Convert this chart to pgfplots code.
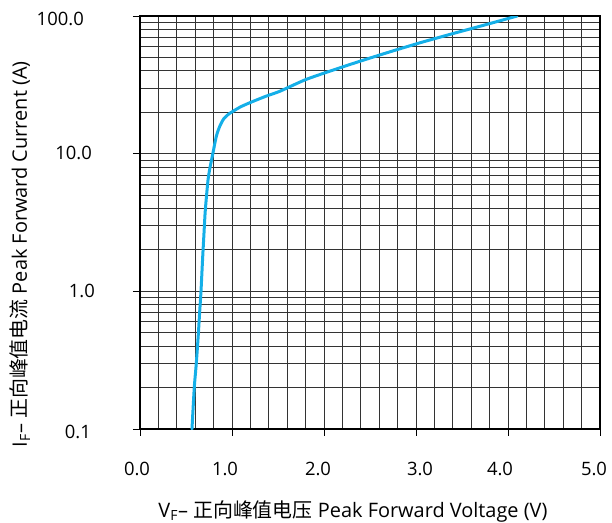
\documentclass[border=0pt]{standalone}
\usepackage{pgfplots}
\pgfplotsset{compat=1.18}
\usepackage{fontspec}
\setmainfont{Open Sans}
\newfontfamily\cjk{Noto Sans CJK SC}

\definecolor{curve}{HTML}{14AFE8}
\definecolor{gridc}{HTML}{333333}

% tick labels, each nudged a little off its tick
\newcommand\xlab[1]{\ifcase#1
  \makebox[0pt]{\hspace*{-6bp}0.0}\or
  \makebox[0pt]{\hspace*{-14bp}1.0}\or
  \makebox[0pt]{\hspace*{-12bp}2.0}\or
  \makebox[0pt]{\hspace*{8bp}3.0}\or
  \makebox[0pt]{\hspace*{-16bp}4.0}\or
  \makebox[0pt]{\hspace*{-12bp}5.0}\fi}

% forward characteristic: voltage (V), peak current (A)
\pgfplotstableread{
V      I
0.565  0.10
0.590  0.20
0.612  0.30
0.635  0.50
0.648  0.70
0.663  1.00
0.680  1.70
0.695  2.60
0.710  3.90
0.740  6.50
0.765  8.20
0.785  9.50
0.830  13.4
0.870  16.0
0.910  17.9
0.960  19.3
1.010  20.3
1.100  22.0
1.230  24.0
1.380  26.3
1.520  28.4
1.800  34.5
2.100  40.5
2.390  46.9
2.700  54.5
3.040  63.8
3.400  74.5
3.700  84.4
4.100  100
}\fwd

\begin{document}
\begin{tikzpicture}
\begin{axis}[
  scale only axis,
  width=460bp, height=413bp,
  xmin=0, xmax=5,
  ymode=log, ymin=0.1, ymax=100,
  xtick={0,1,2,3,4,5},
  xticklabel={\xlab{\ticknum}},
  minor x tick num=4,
  ytick={0.1,1,10,100},
  yticklabels={},
  grid=both,
  major grid style={line width=0.8bp, gridc},
  minor grid style={line width=0.8bp, gridc},
  tick align=outside,
  xtick pos=bottom, ytick pos=left,
  major tick length=7bp,
  minor tick length=0pt,
  tick style={line width=0.8bp, black},
  axis line style={line width=1.2bp, black},
  tick label style={font=\fontsize{18.5}{22}\selectfont},
  xticklabel style={anchor=base, yshift=-40bp},
  xlabel={V\textsubscript{F}– {\cjk 正向峰值电压} Peak Forward Voltage (V)},
  ylabel={I\textsubscript{F}– {\cjk 正向峰值电流} Peak Forward Current (A)},
  label style={font=\fontsize{20}{24}\selectfont},
  xlabel style={at={(axis description cs:0.463,0)}, anchor=base, yshift=-88bp},
  ylabel style={at={(axis description cs:-0.2457,0.423)}, anchor=base},
  clip mode=individual,
]
\addplot[curve, line width=3bp, line join=round, line cap=round, smooth, tension=0.4]
  table[x=V, y=I] {\fwd};
\coordinate (sw) at (rel axis cs:0,0);
\coordinate (ne) at (rel axis cs:1,1);
% current scale values, right-aligned left of the axis
\begin{scope}[every node/.style={font=\fontsize{18.5}{22}\selectfont, anchor=east, inner sep=0pt}]
  \node at ([xshift=-49bp,yshift=-3bp]axis cs:0,0.1) {0.1};
  \node at ([xshift=-45bp,yshift=0bp]axis cs:0,1) {1.0};
  \node at ([xshift=-48bp,yshift=1bp]axis cs:0,10) {10.0};
  \node at ([xshift=-56bp,yshift=-3bp]axis cs:0,100) {100.0};
\end{scope}
\end{axis}
\pgfresetboundingbox
\path ([shift={(-140bp,-93bp)}]sw) rectangle ([shift={(12bp,16bp)}]ne);
\end{tikzpicture}
\end{document}
